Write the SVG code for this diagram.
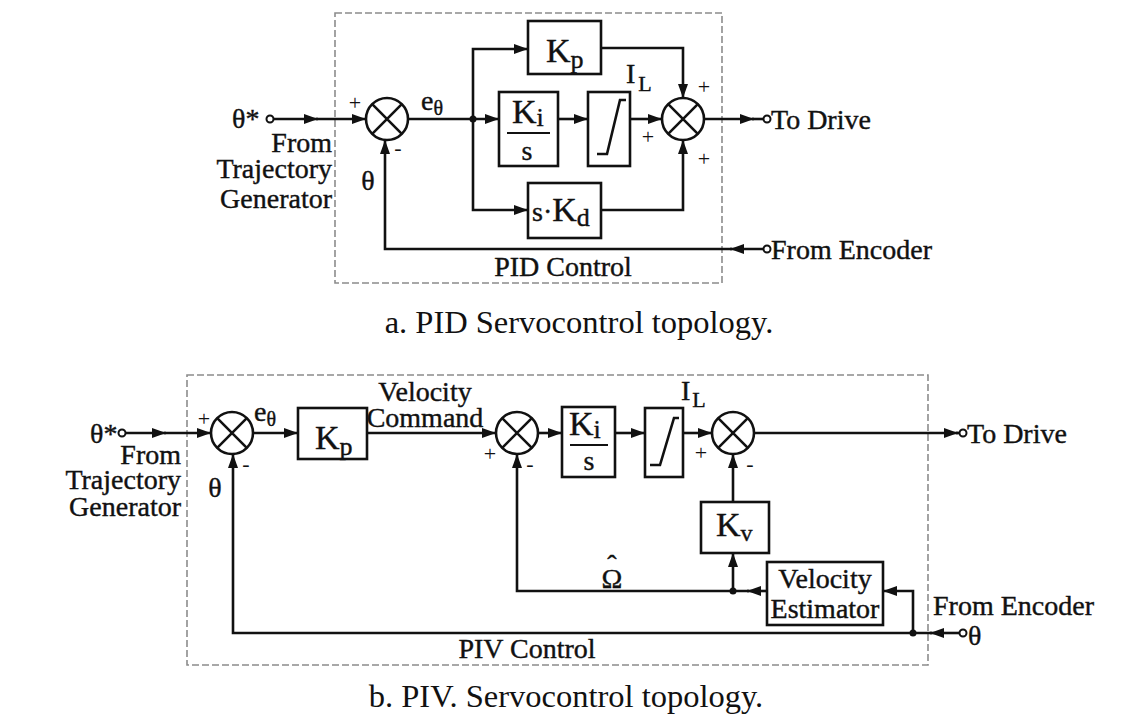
<svg xmlns="http://www.w3.org/2000/svg" width="1142" height="721" viewBox="0 0 1142 721">
<defs>
<style>
.ln{fill:none;stroke:#111;stroke-width:2.6}
.bx{fill:none;stroke:#111;stroke-width:2.6}
.dash{fill:none;stroke:#8c8c8c;stroke-width:1.6;stroke-dasharray:7 3}
.t{font-family:"Liberation Serif","Times New Roman",serif;font-size:28px;fill:#111;stroke:#111;stroke-width:0.4}
.big{font-family:"Liberation Serif","Times New Roman",serif;font-size:34px;fill:#111;stroke:#111;stroke-width:0.4}
.sg{font-family:"Liberation Serif","Times New Roman",serif;font-size:22px;fill:#111}
.cap{font-family:"Liberation Serif","Times New Roman",serif;font-size:32.5px;fill:#111}
.dot{fill:#111}
.oc{fill:#fff;stroke:#111;stroke-width:2}
</style>
<marker id="ah" markerUnits="userSpaceOnUse" markerWidth="15" markerHeight="11" refX="14" refY="5" orient="auto">
<path d="M0,0 L14,5 L0,10 z" fill="#111"/>
</marker>
<g id="sumj">
<circle cx="0" cy="0" r="21" fill="#fff" stroke="#111" stroke-width="2.6"/>
<path d="M-14.8,-14.8 L14.8,14.8 M14.8,-14.8 L-14.8,14.8" stroke="#111" stroke-width="2.6"/>
</g>
</defs>
<rect width="1142" height="721" fill="#fff"/>

<!-- ================= (a) PID ================= -->
<rect class="dash" x="335" y="13" width="387" height="270"/>

<g id="connectors-a">
<path class="ln" d="M273,119 H318" marker-end="url(#ah)"/>
<path class="ln" d="M316,119 H366" marker-end="url(#ah)"/>
<path class="ln" d="M408,119 H499" marker-end="url(#ah)"/>
<path class="ln" d="M473,119 V49 H528" marker-end="url(#ah)"/>
<path class="ln" d="M473,119 V210 H528" marker-end="url(#ah)"/>
<path class="ln" d="M558,119 H588" marker-end="url(#ah)"/>
<path class="ln" d="M630,119 H662" marker-end="url(#ah)"/>
<path class="ln" d="M601,48 H683 V98" marker-end="url(#ah)"/>
<path class="ln" d="M601,210 H683 V140" marker-end="url(#ah)"/>
<path class="ln" d="M704,119 H754" marker-end="url(#ah)"/>
<path class="ln" d="M752,119 H764"/>
<path class="ln" d="M764,249 H730" marker-end="url(#ah)"/>
<path class="ln" d="M732,249 H385 V140" marker-end="url(#ah)"/>
<circle class="dot" cx="473" cy="119" r="3.5"/>
<circle class="oc" cx="270" cy="119" r="3.5"/>
<circle class="oc" cx="767" cy="119" r="3.5"/>
<circle class="oc" cx="767" cy="249" r="3.5"/>
</g>

<g id="a-input">
<text class="t" x="232" y="128" font-size="30">θ*</text>
<text class="t" x="332" y="152" text-anchor="end">From</text>
<text class="t" x="332" y="178" text-anchor="end">Trajectory</text>
<text class="t" x="332" y="208" text-anchor="end">Generator</text>
</g>
<g id="a-sum1">
<use href="#sumj" x="387" y="119"/>
<text class="sg" x="355" y="110" text-anchor="middle">+</text>
<text class="sg" x="398" y="155" text-anchor="middle">-</text>
<text class="t" x="368" y="190" text-anchor="middle" font-size="30">θ</text>
<text class="t" x="421" y="110">e<tspan font-size="20" dy="5">θ</tspan></text>
</g>
<g id="a-kp">
<rect class="bx" x="528" y="21" width="73" height="53"/>
<text class="big" x="546" y="62">K<tspan font-size="26" dy="6">p</tspan></text>
</g>
<g id="a-ki">
<rect class="bx" x="499" y="92" width="59" height="74"/>
<text class="big" x="512" y="123">K<tspan font-size="26" dy="3">i</tspan></text>
<line x1="507" y1="133" x2="550" y2="133" stroke="#111" stroke-width="2"/>
<text class="t" x="527" y="160" text-anchor="middle">s</text>
</g>
<g id="a-lim">
<rect class="bx" x="588" y="92" width="42" height="74"/>
<path class="ln" d="M597,154 H607 L620,100 H626" stroke-width="2.2"/>
<text class="t" x="626" y="83">I<tspan font-size="22" dx="3" dy="8">L</tspan></text>
</g>
<g id="a-kd">
<rect class="bx" x="528" y="183" width="73" height="55"/>
<text class="big" x="532" y="221"><tspan font-size="28">s·</tspan>K<tspan font-size="26" dy="5">d</tspan></text>
</g>
<g id="a-sum2">
<use href="#sumj" x="683" y="119"/>
<text class="sg" x="704" y="94" text-anchor="middle">+</text>
<text class="sg" x="648" y="144" text-anchor="middle">+</text>
<text class="sg" x="704" y="166" text-anchor="middle">+</text>
</g>
<g id="a-out">
<text class="t" x="771" y="129">To Drive</text>
<text class="t" x="771" y="259">From Encoder</text>
<text class="t" x="563" y="276" text-anchor="middle">PID Control</text>
</g>
<text class="cap" x="579" y="333" text-anchor="middle">a. PID Servocontrol topology.</text>

<!-- ================= (b) PIV ================= -->
<rect class="dash" x="187" y="375" width="741" height="290"/>

<g id="connectors-b">
<path class="ln" d="M125,433 H166" marker-end="url(#ah)"/>
<path class="ln" d="M164,433 H211" marker-end="url(#ah)"/>
<path class="ln" d="M253,433 H298" marker-end="url(#ah)"/>
<path class="ln" d="M367,433 H496" marker-end="url(#ah)"/>
<path class="ln" d="M538,433 H562" marker-end="url(#ah)"/>
<path class="ln" d="M615,433 H645" marker-end="url(#ah)"/>
<path class="ln" d="M683,433 H712" marker-end="url(#ah)"/>
<path class="ln" d="M754,433 H958" marker-end="url(#ah)"/>
<path class="ln" d="M956,433 H960"/>
<path class="ln" d="M733,502 V454" marker-end="url(#ah)"/>
<path class="ln" d="M767,591 H747" marker-end="url(#ah)"/>
<path class="ln" d="M749,591 H517 V454" marker-end="url(#ah)"/>
<path class="ln" d="M733,591 V553" marker-end="url(#ah)"/>
<path class="ln" d="M960,633 H930" marker-end="url(#ah)"/>
<path class="ln" d="M932,633 H233 V454" marker-end="url(#ah)"/>
<path class="ln" d="M913,633 V591 H883" marker-end="url(#ah)"/>
<circle class="dot" cx="733" cy="591" r="3.5"/>
<circle class="dot" cx="913" cy="633" r="3.5"/>
<circle class="oc" cx="122" cy="433" r="3.5"/>
<circle class="oc" cx="963" cy="433" r="3.5"/>
<circle class="oc" cx="963" cy="633" r="3.5"/>
</g>

<g id="b-input">
<text class="t" x="90" y="443" font-size="30">θ*</text>
<text class="t" x="181" y="464" text-anchor="end">From</text>
<text class="t" x="181" y="489" text-anchor="end">Trajectory</text>
<text class="t" x="181" y="516" text-anchor="end">Generator</text>
</g>
<g id="b-sum1">
<use href="#sumj" x="232" y="433"/>
<text class="sg" x="204" y="426" text-anchor="middle">+</text>
<text class="sg" x="246" y="471" text-anchor="middle">-</text>
<text class="t" x="215" y="497" text-anchor="middle" font-size="30">θ</text>
<text class="t" x="254" y="421">e<tspan font-size="20" dy="5">θ</tspan></text>
</g>
<g id="b-kp">
<rect class="bx" x="298" y="408" width="69" height="51"/>
<text class="big" x="315" y="449">K<tspan font-size="26" dy="6">p</tspan></text>
<text class="t" x="425" y="401" text-anchor="middle">Velocity</text>
<text class="t" x="425" y="427" text-anchor="middle">Command</text>
</g>
<g id="b-sum2">
<use href="#sumj" x="517" y="433"/>
<text class="sg" x="490" y="461" text-anchor="middle">+</text>
<text class="sg" x="530" y="471" text-anchor="middle">-</text>
</g>
<g id="b-ki">
<rect class="bx" x="562" y="407" width="53" height="70"/>
<text class="big" x="569" y="435">K<tspan font-size="26" dy="3">i</tspan></text>
<line x1="570" y1="445" x2="608" y2="445" stroke="#111" stroke-width="2"/>
<text class="t" x="589" y="470" text-anchor="middle">s</text>
</g>
<g id="b-lim">
<rect class="bx" x="645" y="408" width="38" height="69"/>
<path class="ln" d="M650,465 H660 L674,418 H679" stroke-width="2.2"/>
<text class="t" x="681" y="400">I<tspan font-size="22" dx="2" dy="7">L</tspan></text>
</g>
<g id="b-sum3">
<use href="#sumj" x="733" y="433"/>
<text class="sg" x="701" y="460" text-anchor="middle">+</text>
<text class="sg" x="750" y="471" text-anchor="middle">-</text>
</g>
<g id="b-kv">
<rect class="bx" x="701" y="502" width="68" height="51"/>
<text class="big" x="716" y="536">K<tspan font-size="24" dy="5">v</tspan></text>
</g>
<g id="b-ve">
<rect class="bx" x="767" y="562" width="116" height="63"/>
<text class="t" x="825" y="588" text-anchor="middle">Velocity</text>
<text class="t" x="825" y="618" text-anchor="middle">Estimator</text>
</g>
<g id="b-labels">
<text class="t" font-size="30" text-anchor="middle"><tspan x="612" y="574">ˆ</tspan><tspan x="612" y="588">Ω</tspan></text>
<text class="t" x="967" y="443">To Drive</text>
<text class="t" x="933" y="615">From Encoder</text>
<text class="t" x="968" y="645" font-size="30">θ</text>
<text class="t" x="527" y="658" text-anchor="middle">PIV Control</text>
</g>
<text class="cap" x="566" y="707" text-anchor="middle">b. PIV. Servocontrol topology.</text>
</svg>
